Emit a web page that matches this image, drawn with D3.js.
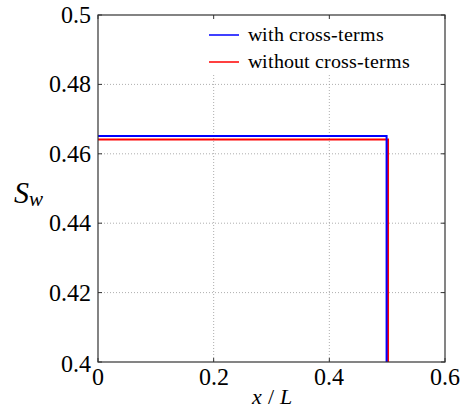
<!DOCTYPE html>
<html><head><meta charset="utf-8"><script src="https://cdn.jsdelivr.net/npm/d3@7"></script>
<style>
@font-face{font-family:"RSerif";font-style:normal;font-weight:400;src:local("Liberation Serif"),local("LiberationSerif"),local("Times New Roman");}
@font-face{font-family:"RSerif";font-style:italic;font-weight:400;src:local("Liberation Serif Italic"),local("LiberationSerif-Italic"),local("Times New Roman Italic");}
svg, svg text, svg tspan{font-family:"RSerif","Liberation Serif","Times New Roman",Times,serif;}
</style>
</head>
<body style="margin:0">
<script>
const xTicks = [0, 0.2, 0.4, 0.6];
const xTickLabels = ["0", "0.2", "0.4", "0.6"];
const yTicks = [0.4, 0.42, 0.44, 0.46, 0.48, 0.5];
const yTickLabels = ["0.4", "0.42", "0.44", "0.46", "0.48", "0.5"];
const seriesNames = ["with cross-terms", "without cross-terms"];
const seriesColors = ["#0000ff", "#ff0000"];
const withX = [0, 0.499, 0.499];
const withY = [0.4651, 0.4651, 0.4];
const withoutX = [0, 0.5015, 0.5015];
const withoutY = [0.4641, 0.4641, 0.4];

const W = 460, H = 410;
const m = {left: 98, right: 15, top: 15, bottom: 48};
const pw = W - m.left - m.right, ph = H - m.top - m.bottom;
const FONT = '"Times New Roman"';

const svg = d3.select("body").append("svg").attr("width", W).attr("height", H)
  .attr("font-family", "Times New Roman");
const x = d3.scaleLinear().domain([0, 0.6]).range([m.left, m.left + pw]);
const y = d3.scaleLinear().domain([0.4, 0.5]).range([m.top + ph, m.top]);

// grid
const grid = svg.append("g").attr("stroke", "#999").attr("stroke-width", 0.8).attr("stroke-dasharray", "1,2");
grid.selectAll(".gx").data(xTicks.slice(1, -1)).enter().append("line")
  .attr("x1", d => x(d)).attr("x2", d => x(d)).attr("y1", m.top).attr("y2", m.top + ph);
grid.selectAll(".gy").data(yTicks.slice(1, -1)).enter().append("line")
  .attr("y1", d => y(d)).attr("y2", d => y(d)).attr("x1", m.left).attr("x2", m.left + pw);

// legend background
svg.append("rect").attr("x", 204).attr("y", m.top + 1).attr("width", m.left + pw - 205).attr("height", 59).attr("fill", "#fff");

// lines
const line = d3.line().x(d => x(d[0])).y(d => y(d[1]));
const series = [
  {name: seriesNames[0], color: seriesColors[0], pts: withX.map((v, i) => [v, withY[i]])},
  {name: seriesNames[1], color: seriesColors[1], pts: withoutX.map((v, i) => [v, withoutY[i]])}
];
svg.selectAll(".s").data(series.slice().reverse()).enter().append("path")
  .attr("d", d => line(d.pts)).attr("fill", "none").attr("stroke", d => d.color).attr("stroke-width", 2);

// ticks (inward, all four sides)
const tk = svg.append("g").attr("stroke", "#333").attr("stroke-width", 1);
tk.selectAll(".tb").data(xTicks).enter().append("line")
  .attr("x1", d => x(d)).attr("x2", d => x(d)).attr("y1", m.top + ph).attr("y2", m.top + ph - 4);
tk.selectAll(".tt").data(xTicks).enter().append("line")
  .attr("x1", d => x(d)).attr("x2", d => x(d)).attr("y1", m.top).attr("y2", m.top + 4);
tk.selectAll(".tl").data(yTicks).enter().append("line")
  .attr("y1", d => y(d)).attr("y2", d => y(d)).attr("x1", m.left).attr("x2", m.left + 4);
tk.selectAll(".tr").data(yTicks).enter().append("line")
  .attr("y1", d => y(d)).attr("y2", d => y(d)).attr("x1", m.left + pw).attr("x2", m.left + pw - 4);

// tick labels
svg.selectAll(".xl").data(xTicks).enter().append("text")
  .attr("x", d => x(d)).attr("y", m.top + ph + 23).attr("text-anchor", "middle")
  .attr("font-size", 24).attr("fill", "#000").attr("font-family", "Times New Roman")
  .text((d, i) => xTickLabels[i]);
svg.selectAll(".yl").data(yTicks).enter().append("text")
  .attr("x", m.left - 7).attr("y", d => y(d) + (d === 0.4 ? 10 : 8)).attr("text-anchor", "end")
  .attr("font-size", 24).attr("fill", "#000").attr("font-family", "Times New Roman")
  .text((d, i) => yTickLabels[i]);

// box
svg.append("rect").attr("x", m.left).attr("y", m.top).attr("width", pw).attr("height", ph)
  .attr("fill", "none").attr("stroke", "#333").attr("stroke-width", 1.2);

// legend
series.forEach((s, i) => {
  const ly = 35 + i * 27;
  svg.append("line").attr("x1", 209).attr("x2", 239).attr("y1", ly).attr("y2", ly)
    .attr("stroke", s.color).attr("stroke-width", 1.5);
  svg.append("text").attr("x", 248).attr("y", ly + 6)
    .attr("font-size", 20).attr("font-family", "Times New Roman")
    .attr("fill", "#000").text(s.name);
});

// axis labels
const xl = svg.append("text").attr("x", x(0.3)).attr("y", 404).attr("text-anchor", "middle")
  .attr("font-size", 22).attr("font-family", "Times New Roman").attr("fill", "#000");
xl.append("tspan").attr("font-style", "italic").text("x");
xl.append("tspan").text(" / ");
xl.append("tspan").attr("font-style", "italic").text("L");

const yl = svg.append("text").attr("x", 14).attr("y", 203).attr("fill", "#000").attr("font-family", "Times New Roman");
yl.append("tspan").attr("font-style", "italic").attr("font-size", 30).text("S");
yl.append("tspan").attr("font-style", "italic").attr("font-size", 21).attr("dy", 3).text("w");
</script>
</body></html>
